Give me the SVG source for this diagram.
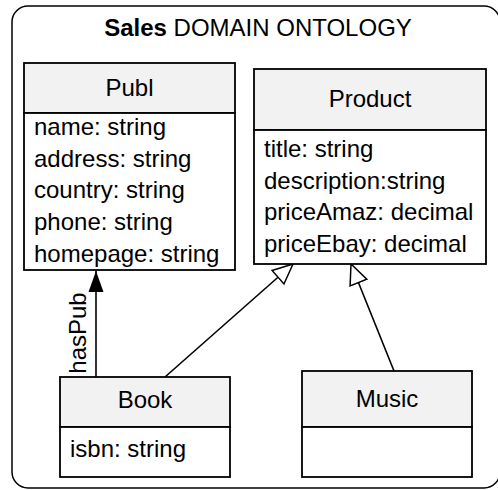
<svg xmlns="http://www.w3.org/2000/svg" width="498" height="490" viewBox="0 0 498 490">
  <style>
    .frame { fill: #ffffff; stroke: #000000; stroke-width: 1.5; }
    .hdr { fill: #f2f2f2; stroke: #000000; stroke-width: 1.8; }
    .body { fill: #ffffff; stroke: #000000; stroke-width: 1.8; }
    .t { font-family: "Liberation Sans", Arial, sans-serif; font-size: 24px; fill: #000000; }
    .c { text-anchor: middle; }
    .title { font-family: "Liberation Sans", Arial, sans-serif; font-size: 24px; fill: #000000; text-anchor: middle; }
    .conn { stroke: #000000; stroke-width: 1.6; fill: none; }
  </style>
  <defs>
    <marker id="gen" markerUnits="userSpaceOnUse" viewBox="-1 -11 23 22" refX="20" refY="0" markerWidth="23" markerHeight="22" orient="auto">
      <path d="M 0 -9 L 20 0 L 0 9 Z" fill="#ffffff" stroke="#000000" stroke-width="1.5"/>
    </marker>
    <marker id="arr" markerUnits="userSpaceOnUse" viewBox="0 -8 22 16" refX="21" refY="0" markerWidth="22" markerHeight="16" orient="auto">
      <path d="M 0 -7.5 L 21 0 L 0 7.5 Z" fill="#000000"/>
    </marker>
  </defs>

  <rect class="frame" x="12" y="6" width="488" height="482" rx="16" ry="16"/>
  <text class="title" x="258" y="36"><tspan font-weight="bold">Sales</tspan> DOMAIN ONTOLOGY</text>

  <g id="connectors">
    <line class="conn" x1="96" y1="377" x2="96" y2="271" marker-end="url(#arr)"/>
    <line class="conn" x1="165" y1="377" x2="293" y2="264" marker-end="url(#gen)"/>
    <line class="conn" x1="394" y1="371" x2="351" y2="264" marker-end="url(#gen)"/>
    <text class="t" transform="translate(86,333) rotate(-90)" text-anchor="middle">hasPub</text>
  </g>

  <g id="Publ">
    <rect class="hdr" x="24" y="63" width="211" height="50"/>
    <rect class="body" x="24" y="113" width="211" height="157"/>
    <text class="t c" x="129.5" y="96">Publ</text>
    <text class="t" x="34" y="135">name: string</text>
    <text class="t" x="34" y="166.7">address: string</text>
    <text class="t" x="34" y="198.4">country: string</text>
    <text class="t" x="34" y="230">phone: string</text>
    <text class="t" x="34" y="261.7">homepage: string</text>
  </g>

  <g id="Product">
    <rect class="hdr" x="254" y="69" width="232" height="61"/>
    <rect class="body" x="254" y="130" width="232" height="134"/>
    <text class="t c" x="370" y="107">Product</text>
    <text class="t" x="264" y="157">title: string</text>
    <text class="t" x="264" y="188.5">description:string</text>
    <text class="t" x="264" y="220">priceAmaz: decimal</text>
    <text class="t" x="264" y="251.5">priceEbay: decimal</text>
  </g>

  <g id="Book">
    <rect class="hdr" x="60" y="377" width="170" height="50"/>
    <rect class="body" x="60" y="427" width="170" height="50"/>
    <text class="t c" x="145" y="408">Book</text>
    <text class="t" x="70" y="457">isbn: string</text>
  </g>

  <g id="Music">
    <rect class="hdr" x="302" y="371" width="170" height="56"/>
    <rect class="body" x="302" y="427" width="170" height="50"/>
    <text class="t c" x="387" y="407">Music</text>
  </g>
</svg>
